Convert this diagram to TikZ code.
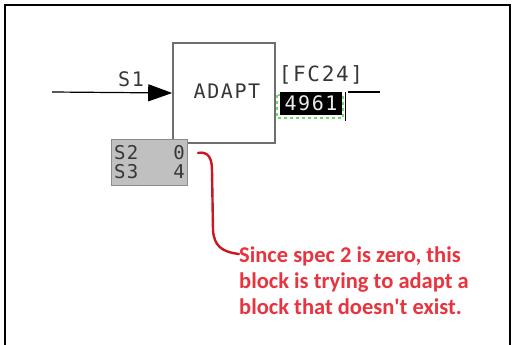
\documentclass[tikz,border=0pt]{standalone}
\usepackage{fontspec}
\setmainfont{Carlito}
\newfontfamily\monof[LetterSpace=8]{DejaVu Sans Mono}
\newfontfamily\monog[LetterSpace=6]{DejaVu Sans Mono}
\usetikzlibrary{arrows.meta}
\definecolor{txtred}{RGB}{232,52,62}
\definecolor{curvered}{RGB}{205,22,36}
\definecolor{boxgray}{RGB}{192,192,192}
\definecolor{edgegray}{RGB}{110,110,110}
\definecolor{labgray}{RGB}{55,55,55}
\definecolor{dashgreen}{RGB}{110,220,110}
\begin{document}
\begin{tikzpicture}[x=1pt,y=-1pt,
  blockbox/.style={draw=edgegray,line width=1.6pt,fill=white,minimum width=102pt,minimum height=100pt,inner sep=0pt},
  labtext/.style={font=\monof\fontsize{20}{20}\selectfont,text=labgray,inner sep=0pt},
  spectext/.style={font=\monog\fontsize{19}{19}\selectfont,text=labgray,inner sep=0pt},
  specbox/.style={draw=edgegray!80,line width=1pt,fill=boxgray,minimum width=76pt,minimum height=46pt,inner sep=0pt},
  note/.style={font=\bfseries\fontsize{22.5}{26}\selectfont,text=txtred,align=left,inner sep=0pt,anchor=north west}]
\useasboundingbox (0,0) rectangle (512,345);
\fill[white] (0,0) rectangle (512,345);
\draw[line width=2pt] (5,346) -- (5,5) -- (510,5) -- (510,346);
% block
\node[blockbox] (blk) at (224,93) {};
\node[labtext] (adapt) at (227,91) {ADAPT};
% input
\coordinate (in) at (52,92);
\draw[line width=1.2pt,-{Triangle[length=24pt,width=17pt]}] (in) -- (blk.west);
\node[labtext,anchor=base] (s1) at (131,87) {S1};
% output
\node[labtext,font=\monof\fontsize{21}{21}\selectfont,anchor=base] (fc) at (321,82) {[FC24]};
\coordinate (outa) at (348,92);
\coordinate (outb) at (380,92);
\draw[line width=1.2pt] (outa) -- (outb);
% value box
\draw[dashgreen,line width=1.5pt,dashed] (277,95) rectangle (343,118);
\node[fill=black,minimum width=62pt,minimum height=23pt,inner sep=0pt] (val) at (311,103.5) {};
\node[text=white!85!gray,font=\monof\fontsize{20}{20}\selectfont,inner sep=0pt] (valt) at (311,103.5) {4961};
\draw[line width=0.8pt] (345,92) -- (345,121);
% spec box
\node[specbox] (spec) at (149,162) {};
\node[spectext,anchor=west] (s2) at (114,153) {S2};
\node[spectext,anchor=west] (s3) at (114,172) {S3};
\node[spectext,anchor=east] (v2) at (185,153) {0};
\node[spectext,anchor=east] (v3) at (185,172) {4};
% note
\node[note] (nt) at (239,247) {Since spec 2 is zero, this\\block is trying to adapt a\\block that doesn\textquotesingle t exist.};
\coordinate (cs) at (198,153);
\draw[curvered,line width=2.4pt,line cap=round] (cs) .. controls (208,151) and (212,158) .. (212,170) -- (213,230) .. controls (214,246) and (222,252) .. (nt.north west |- 0,254);
\end{tikzpicture}
\end{document}
